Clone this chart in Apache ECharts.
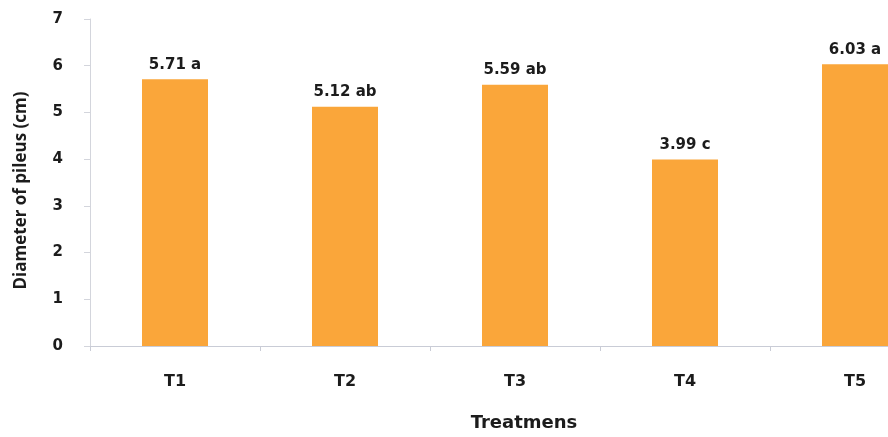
<!DOCTYPE html>
<html>
<head>
<meta charset="utf-8">
<script src="https://cdn.jsdelivr.net/npm/echarts@6/dist/echarts.min.js"></script>
<style>
  html, body { margin: 0; padding: 0; background: #fff; }
  #frame { width: 888px; height: 437px; overflow: hidden; }
  /* the drawing is wider than the frame, so the last bar is cut at the edge */
  #chart { width: 940px; height: 437px; }
</style>
</head>
<body>
<div id="frame"><div id="chart"></div></div>
<script>
// Pileus diameter per treatment, with significance letters
const treatments = ['T1', 'T2', 'T3', 'T4', 'T5'];
const diameters = [5.71, 5.12, 5.59, 3.99, 6.03];
const groups = ['a', 'ab', 'ab', 'c', 'a'];
const yTicks = [0, 1, 2, 3, 4, 5, 6, 7];

const BOLD = '"DejaVu Sans", Verdana, sans-serif';
const SOFT = '"Open Sans", sans-serif';
const INK = '#1c1c1c';
const chart = echarts.init(document.getElementById('chart'));

chart.setOption({
  animation: false,
  backgroundColor: '#ffffff',
  grid: { left: 90, top: 19, width: 850, height: 334, containLabel: false },
  xAxis: {
    type: 'category',
    data: treatments,
    name: 'Treatmens',
    nameLocation: 'middle',
    nameGap: 68,
    nameTextStyle: { fontFamily: BOLD, fontWeight: 'bold', fontSize: 18, color: INK, padding: [0, 0, 0, 18] },
    axisLine: { lineStyle: { color: '#c9ccd6', width: 1 } },
    axisTick: { show: true, length: 5, lineStyle: { color: '#c9ccd6' } },
    axisLabel: { margin: 28, fontFamily: BOLD, fontWeight: 'bold', fontSize: 16, color: INK },
    splitLine: { show: false }
  },
  yAxis: {
    type: 'value',
    min: yTicks[0],
    max: yTicks[yTicks.length - 1],
    interval: 1,
    name: 'Diameter of pileus (cm)',
    nameLocation: 'middle',
    nameGap: 60,
    nameTextStyle: { fontFamily: SOFT, fontWeight: 'bold', fontSize: 17, color: INK, padding: [0, 16, 0, 0] },
    axisLine: { show: true, lineStyle: { color: '#d3d5dc', width: 1 } },
    axisTick: { show: true, length: 6, lineStyle: { color: '#d3d5dc' } },
    axisLabel: { margin: 27, fontFamily: BOLD, fontWeight: 'bold', fontSize: 15, color: INK, padding: [6, 0, 0, 0] },
    splitLine: { show: false }
  },
  series: [{
    type: 'bar',
    data: diameters,
    barWidth: 66,
    itemStyle: { color: '#FAA63A' },
    label: {
      show: true,
      position: 'top',
      distance: 7,
      fontFamily: BOLD,
      fontWeight: 'bold',
      fontSize: 15,
      color: INK,
      formatter: p => p.value.toFixed(2) + ' ' + groups[p.dataIndex]
    }
  }]
});
</script>
</body>
</html>
